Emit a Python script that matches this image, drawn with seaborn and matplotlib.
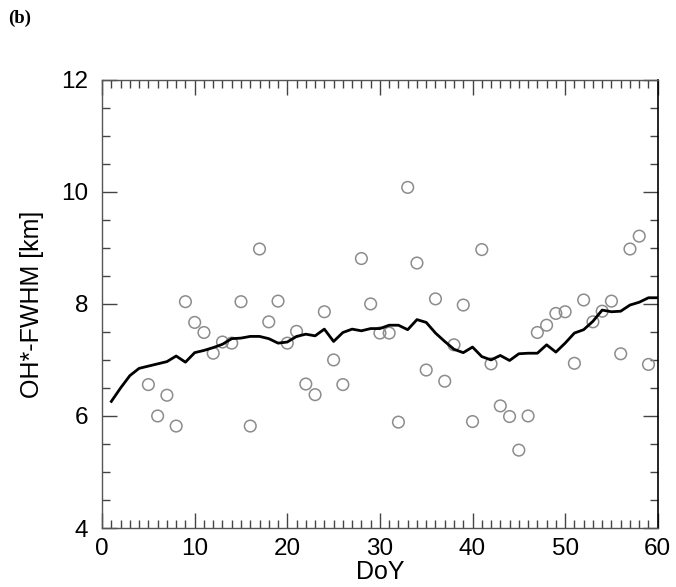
import numpy as np
import pandas as pd
import matplotlib
matplotlib.use("Agg")
import matplotlib.pyplot as plt
from matplotlib.ticker import MultipleLocator
import seaborn as sns

# Daily OH* layer FWHM values (km) by day of year
obs_days = [5, 6, 7, 8, 9, 10, 11, 12, 13, 14, 15, 16, 17, 18, 19, 20,
            21, 22, 23, 24, 25, 26, 28, 29, 30, 31, 32, 33, 34, 35, 36,
            37, 38, 39, 40, 41, 42, 43, 44, 45, 46, 47, 48, 49, 50, 51,
            52, 53, 54, 55, 56, 57, 58, 59]
obs_fwhm = [6.56, 6.00, 6.37, 5.82, 8.04, 7.67, 7.49, 7.12, 7.32, 7.30,
            8.04, 5.82, 8.98, 7.68, 8.05, 7.30, 7.51, 6.57, 6.38, 7.86,
            7.00, 6.56, 8.81, 8.00, 7.48, 7.48, 5.89, 10.08, 8.73, 6.82,
            8.09, 6.62, 7.27, 7.98, 5.90, 8.97, 6.93, 6.18, 5.99, 5.39,
            6.00, 7.49, 7.62, 7.83, 7.86, 6.94, 8.07, 7.68, 7.87, 8.05,
            7.11, 8.98, 9.21, 6.92]

# Climatological mean curve
clim_days = list(range(1, 61))
clim_fwhm = [6.26, 6.50, 6.72, 6.85, 6.89, 6.93, 6.97, 7.07, 6.96, 7.13,
             7.17, 7.22, 7.28, 7.38, 7.39, 7.42, 7.42, 7.38, 7.30, 7.32,
             7.42, 7.46, 7.43, 7.55, 7.33, 7.49, 7.55, 7.52, 7.56, 7.56,
             7.62, 7.62, 7.54, 7.72, 7.67, 7.48, 7.33, 7.19, 7.13, 7.23,
             7.06, 7.00, 7.08, 6.99, 7.11, 7.12, 7.12, 7.27, 7.14, 7.30,
             7.48, 7.54, 7.69, 7.89, 7.86, 7.87, 7.98, 8.03, 8.11, 8.11]

obs = pd.DataFrame({"DoY": obs_days, "FWHM": obs_fwhm})
clim = pd.DataFrame({"DoY": clim_days, "FWHM": clim_fwhm})

plt.rcParams["font.family"] = ["Liberation Sans", "DejaVu Sans"]

fig = plt.figure(figsize=(6.76, 5.87), dpi=100)
ax = fig.add_axes([0.151, 0.1005, 0.822, 0.7635])

sns.scatterplot(data=obs, x="DoY", y="FWHM", ax=ax, marker="o", s=70,
                facecolor="none", edgecolor="#8c8c8c", linewidth=1.1,
                zorder=2)
sns.lineplot(data=clim, x="DoY", y="FWHM", ax=ax, color="black",
             linewidth=2.0, zorder=3)

ax.set_xlim(0, 60)
ax.set_ylim(4, 12)
ax.xaxis.set_major_locator(MultipleLocator(10))
ax.xaxis.set_minor_locator(MultipleLocator(1))
ax.yaxis.set_major_locator(MultipleLocator(2))
ax.yaxis.set_minor_locator(MultipleLocator(0.5))

ax.tick_params(axis="both", which="both", direction="in",
               top=True, right=True, colors="#444444", width=1.0,
               labelcolor="black")
ax.tick_params(axis="both", which="major", length=10.5, labelsize=17.5)
ax.tick_params(axis="both", which="minor", length=5.5)
ax.tick_params(axis="x", which="major", pad=7)
ax.tick_params(axis="y", which="major", pad=10)

for side in ["left", "bottom", "top"]:
    ax.spines[side].set_color("#555555")
    ax.spines[side].set_linewidth(1.0)
ax.spines["right"].set_color("black")
ax.spines["right"].set_linewidth(1.2)

ax.set_xlabel("DoY", fontsize=18, labelpad=0)
ax.set_ylabel("OH*-FWHM [km]", fontsize=18, labelpad=12)

fig.text(0.012, 0.968, "(b)", fontsize=13.5, fontweight="bold",
         family=["Liberation Serif", "DejaVu Serif"], va="center", ha="left")

fig.savefig("out.png", dpi=100)
